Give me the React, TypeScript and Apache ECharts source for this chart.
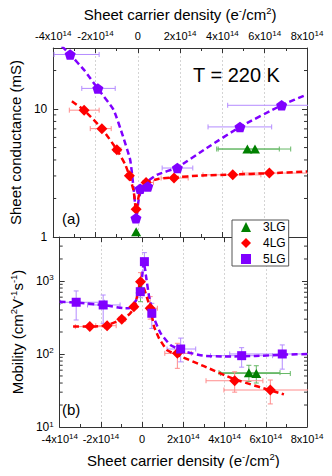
import React, { useEffect, useRef } from "react";
import * as echarts from "echarts";

const FONT = "'Liberation Sans', Arial, Helvetica, sans-serif";
const PURPLE = "#8000ff";
const RED = "#ff0000";
const GREEN = "#008000";
const PURPLE_ERR = "#b48cff";
const RED_ERR = "#ff8c8c";
const GREEN_ERR = "#66b866";
const AXIS = "#333333";

// x axis: sheet carrier density in units of 1e14 e-/cm2
const X_MIN = -4;
const X_MAX = 8;
const X_STEP = 2;
const X_EXP = 14;
// (a) sheet conductance (mS), (b) mobility (cm2/Vs)
const G_MIN = 1;
const G_MAX = 30;
const MU_MIN = 10;
const MU_MAX = 4000;
const gMinorTicks = [2, 3, 4, 5, 6, 7, 8, 9, 20];
const muMinorTicks = [20, 30, 40, 50, 60, 70, 80, 90, 200, 300, 400, 500, 600, 700, 800, 900, 2000, 3000];

// ---- 3LG ----
const lg3X = [-0.08, 5.18, 5.54];
const lg3G = [1.1, 4.87, 4.87];
const lg3GxLo = [-0.08, 3.73, 3.8];
const lg3GxHi = [-0.08, 6.69, 7.23];
const lg3Mu = [780, 55.5, 54];
const lg3MuLo = [520, 42, 40];
const lg3MuHi = [1000, 70, 69];
const lg3MuxLo = [-0.08, 3.73, 3.81];
const lg3MuxHi = [-0.08, 6.69, 7.19];

// ---- 4LG ----
const lg4X = [-2.54, -1.7, -0.99, -0.4, -0.08, 0.39, 1.71, 4.49, 6.22];
const lg4G = [9.8, 7.03, 4.81, 3.01, 1.65, 2.67, 2.89, 3.06, 3.16];
const lg4GxLo = [-3.24, -2.25, -1.15, -0.52, -0.12, 0.24, 1.1, 3.08, 4.96];
const lg4GxHi = [-1.83, -1.26, -0.8, -0.24, -0.04, 0.74, 2.38, 5.82, 8.2];
const lg4Mu = [237, 244, 299, 445, 978, 423, 102, 43, 32.1];
const lg4MuLo = [237, 244, 299, 445, 750, 300, 63.6, 30, 20.7];
const lg4MuHi = [237, 244, 299, 445, 1300, 610, 140, 57, 44];
const lg4MuxLo = [-3.24, -2.25, -1.15, -0.52, -0.12, 0.24, 1.1, 3.1, 3.97];
const lg4MuxHi = [-1.83, -1.26, -0.8, -0.24, -0.04, 0.74, 2.39, 5.86, 8.5];

// ---- 5LG ----
const lg5X = [-3.2, -1.89, -0.09, 0.11, 0.47, 1.87, 4.83, 6.8];
const lg5G = [26.7, 14.5, 1.4, 2.38, 2.48, 3.46, 7.25, 10.7];
const lg5GxLo = [-3.96, -2.65, -0.09, 0.11, 0.47, 1.15, 3.32, 4.25];
const lg5GxHi = [-1.83, -1.07, -0.09, 0.11, 0.47, 2.6, 6.33, 8.9];
const lg5Mu = [511, 469, 713, 1838, 361, 117, 94.8, 100];
const lg5MuLo = [292, 263, 590, 1400, 224, 78, 66, 62];
const lg5MuHi = [730, 642, 860, 2443, 494, 165, 122, 133];
const lg5MuxLo = [-3.96, -2.65, -0.09, 0.11, 0.47, 1.21, 3.32, 4.25];
const lg5MuxHi = [-1.83, -1.07, -0.09, 0.11, 0.47, 2.6, 6.33, 8.9];

// ---- fitted curves ----
const fitG5X = [-3.6, -3.2, -2.5, -1.86, -1.15, -0.7, -0.36, -0.21, -0.13, -0.08, -0.03, 0.05, 0.19, 0.5, 0.9, 1.87, 3.26, 4.83, 6.8, 8.0];
const fitG5Y = [31, 26.7, 19.8, 14.2, 9.9, 6.1, 4.0, 2.48, 1.8, 1.37, 1.6, 2.0, 2.41, 2.75, 3.06, 3.5, 4.96, 7.25, 10.7, 13.0];
const fitG4X = [-3.12, -2.54, -1.7, -0.99, -0.6, -0.4, -0.2, -0.08, 0.02, 0.15, 0.39, 1.0, 1.71, 3.0, 4.49, 6.2, 8.0];
const fitG4Y = [11.5, 9.8, 7.03, 4.81, 3.7, 3.01, 2.3, 1.6, 2.0, 2.45, 2.67, 2.85, 2.93, 3.02, 3.08, 3.15, 3.25];
const fitM5X = [-4, -3.2, -1.9, -0.85, -0.6, -0.28, -0.13, 0, 0.08, 0.19, 0.34, 0.58, 0.9, 1.37, 2.08, 2.94, 4.0, 5.5, 7.0, 8.0];
const fitM5Y = [520, 505, 469, 423, 425, 550, 753, 1150, 1838, 1150, 610, 308, 192, 133, 108, 95, 92, 94, 98, 100];
const fitM4X = [-3.35, -2.54, -1.73, -0.99, -0.6, -0.36, -0.13, -0.06, 0.1, 0.27, 0.42, 0.58, 0.82, 1.21, 1.71, 3.0, 4.49, 6.88];
const fitM4Y = [237, 237, 246, 299, 355, 445, 881, 1040, 780, 550, 401, 237, 164, 113, 97, 68, 45, 28];

const PENTAGON = "path://M0,-10L9.51,-3.09L5.88,8.09L-5.88,8.09L-9.51,-3.09Z";

const zip = (xs: number[], ys: number[]) => xs.map((x, i) => [x, ys[i]]);
const errRows = (xs: number[], ys: number[], xl: number[], xh: number[], yl?: number[], yh?: number[]) =>
  xs.map((x, i) => [x, ys[i], xl[i], xh[i], yl ? yl[i] : ys[i], yh ? yh[i] : ys[i]]);

const errRender = (color: string) => (params: any, api: any) => {
  const x = api.value(0);
  const y = api.value(1);
  const xl = api.value(2);
  const xh = api.value(3);
  const yl = api.value(4);
  const yh = api.value(5);
  const style = { stroke: color, lineWidth: 1, fill: "none" };
  const ch: any[] = [];
  if (xh > xl) {
    const a = api.coord([xl, y]);
    const b = api.coord([xh, y]);
    ch.push({ type: "line", shape: { x1: a[0], y1: a[1], x2: b[0], y2: b[1] }, style });
    ch.push({ type: "line", shape: { x1: a[0], y1: a[1] - 2.5, x2: a[0], y2: a[1] + 2.5 }, style });
    ch.push({ type: "line", shape: { x1: b[0], y1: b[1] - 2.5, x2: b[0], y2: b[1] + 2.5 }, style });
  }
  if (yh > yl) {
    const a = api.coord([x, yl]);
    const b = api.coord([x, yh]);
    ch.push({ type: "line", shape: { x1: a[0], y1: a[1], x2: b[0], y2: b[1] }, style });
    ch.push({ type: "line", shape: { x1: a[0] - 2.5, y1: a[1], x2: a[0] + 2.5, y2: a[1] }, style });
    ch.push({ type: "line", shape: { x1: b[0] - 2.5, y1: b[1], x2: b[0] + 2.5, y2: b[1] }, style });
  }
  return { type: "group", children: ch };
};

const tickRender = (len: number) => (params: any, api: any) => {
  const v = api.value(1);
  const l = api.coord([X_MIN, v]);
  const r = api.coord([X_MAX, v]);
  const style = { stroke: AXIS, lineWidth: 1 };
  return {
    type: "group",
    children: [
      { type: "line", shape: { x1: l[0], y1: l[1], x2: l[0] + len, y2: l[1] }, style },
      { type: "line", shape: { x1: r[0], y1: r[1], x2: r[0] - len, y2: r[1] }, style },
    ],
  };
};

const supRich = (base: number, sup: number, lh: number) => ({
  b: { fontSize: base, fontFamily: FONT, fontWeight: "normal", color: "#000", lineHeight: lh },
  s: { fontSize: sup, fontFamily: FONT, fontWeight: "normal", color: "#000", lineHeight: Math.round(lh * 0.45), verticalAlign: "top" },
});

const fmtX = (v: number) => (Math.abs(v) < 1e-9 ? "{b|0}" : `{b|${v}x10}{s|${X_EXP}}`);
const isDecade = (v: number) => Math.abs(Math.log10(v) - Math.round(Math.log10(v))) < 1e-6;
const fmtG = (v: number) => (isDecade(v) ? `${Math.round(v)}` : "");
const fmtMu = (v: number) => (isDecade(v) ? `{b|10}{s|${Math.round(Math.log10(v))}}` : "");

const xTitle = "{b|Sheet carrier density (e}{s|-}{b|/cm}{s|2}{b|)}";
const muTitle = "{b|Mobility (cm}{s|2}{b|V}{s|-1}{b|s}{s|-1}{b|)}";

function xAxisDef(gridIndex: number, position: string, labels: boolean, grid: boolean, name?: string) {
  return {
    type: "value",
    gridIndex,
    position,
    min: X_MIN,
    max: X_MAX,
    interval: X_STEP,
    axisLine: { show: true, onZero: false, lineStyle: { color: AXIS, width: 1 } },
    axisTick: { show: true, inside: true, length: 5, lineStyle: { color: AXIS } },
    minorTick: { show: true, splitNumber: 2, length: 3, lineStyle: { color: AXIS } },
    axisLabel: { show: labels, formatter: fmtX, margin: 5, rich: supRich(11, 8, 14) },
    splitLine: { show: grid, lineStyle: { color: "#d4d4d4", type: [2, 2], width: 1 } },
    name: name || "",
    nameLocation: "middle",
    nameGap: 24,
    nameTextStyle: { fontWeight: "normal", rich: supRich(15, 9.5, 19) },
  };
}

function yAxisDef(gridIndex: number, position: string, min: number, max: number, labels: boolean, fmt: any, name?: string, rich?: any) {
  return {
    type: "log",
    logBase: 10,
    gridIndex,
    position,
    min,
    max,
    axisLine: { show: true, onZero: false, lineStyle: { color: AXIS, width: 1 } },
    axisTick: { show: true, inside: true, length: 5, lineStyle: { color: AXIS } },
    axisLabel: { show: labels, formatter: fmt, margin: 6, fontSize: 12, color: "#000", fontFamily: FONT, rich: supRich(12, 8, 14) },
    splitLine: { show: false },
    name: name || "",
    nameLocation: "middle",
    nameGap: 26,
    nameTextStyle: rich ? { fontWeight: "normal", rich } : { fontSize: 15, fontWeight: "normal", color: "#000", fontFamily: FONT },
  };
}

export default function App() {
  const ref = useRef<HTMLDivElement>(null);
  useEffect(() => {
    if (!ref.current) return;
    const chart = echarts.init(ref.current, undefined, { renderer: "svg" });
    const top = { xAxisIndex: 0, yAxisIndex: 0 };
    const bot = { xAxisIndex: 2, yAxisIndex: 2 };
    const errS = (axes: any, color: string, data: any[]) => ({
      type: "custom", ...axes, renderItem: errRender(color), data, z: 3, clip: true, silent: true,
    });
    const fitS = (axes: any, color: string, xs: number[], ys: number[]) => ({
      type: "line", ...axes, data: zip(xs, ys), showSymbol: false, symbol: "none", smooth: 0.15, z: 4,
      lineStyle: { color, width: 2.5, type: [6, 3.5] }, clip: true, silent: true,
    });
    const dotS = (axes: any, name: string, color: string, symbol: string, size: any, data: any[]) => ({
      type: "scatter", ...axes, name, data, symbol, symbolSize: size, z: 5, itemStyle: { color, opacity: 1 }, clip: false,
    });
    chart.setOption({
      animation: false,
      textStyle: { fontFamily: FONT },
      grid: [
        { left: 53, top: 48, width: 254, height: 189 },
        { left: 53, top: 237, width: 254, height: 190 },
      ],
      xAxis: [
        xAxisDef(0, "bottom", false, true),
        xAxisDef(0, "top", true, false, xTitle),
        xAxisDef(1, "bottom", true, true, xTitle),
        xAxisDef(1, "top", false, false),
      ],
      yAxis: [
        yAxisDef(0, "left", G_MIN, G_MAX, true, fmtG, "Sheet conductance (mS)"),
        yAxisDef(0, "right", G_MIN, G_MAX, false, fmtG),
        yAxisDef(1, "left", MU_MIN, MU_MAX, true, fmtMu, muTitle, supRich(15, 9.5, 19)),
        yAxisDef(1, "right", MU_MIN, MU_MAX, false, fmtMu),
      ],
      legend: {
        left: 232,
        top: 220,
        orient: "vertical",
        selectedMode: false,
        itemWidth: 10,
        itemHeight: 10,
        itemGap: 4,
        padding: [1, 3, 1, 9],
        backgroundColor: "#ffffff",
        borderColor: "#555555",
        borderWidth: 1,
        borderRadius: 0,
        textStyle: { fontSize: 12, lineHeight: 12, color: "#000", fontFamily: FONT, padding: [0, 0, 0, 7] },
        data: [
          { name: "3LG", icon: "triangle", itemStyle: { color: GREEN } },
          { name: "4LG", icon: "diamond", itemStyle: { color: RED } },
          { name: "5LG", icon: "rect", itemStyle: { color: PURPLE } },
        ],
      },
      graphic: [
        { type: "text", x: 193, y: 75, z: 10, style: { text: "T = 220 K", fontSize: 20, fontFamily: FONT, fill: "#000", verticalAlign: "middle" } },
        { type: "text", x: 62, y: 218, z: 10, style: { text: "(a)", fontSize: 15, fontFamily: FONT, fill: "#000", verticalAlign: "middle" } },
        { type: "text", x: 62, y: 409, z: 10, style: { text: "(b)", fontSize: 15, fontFamily: FONT, fill: "#000", verticalAlign: "middle" } },
      ],
      series: [
        // minor ticks (log axes)
        { type: "custom", ...top, renderItem: tickRender(3), data: gMinorTicks.map((v) => [X_MIN, v]), z: 1, silent: true },
        { type: "custom", ...bot, renderItem: tickRender(3), data: muMinorTicks.map((v) => [X_MIN, v]), z: 1, silent: true },
        // (a) conductance
        errS(top, GREEN_ERR, errRows(lg3X, lg3G, lg3GxLo, lg3GxHi)),
        errS(top, RED_ERR, errRows(lg4X, lg4G, lg4GxLo, lg4GxHi)),
        errS(top, PURPLE_ERR, errRows(lg5X, lg5G, lg5GxLo, lg5GxHi)),
        fitS(top, PURPLE, fitG5X, fitG5Y),
        fitS(top, RED, fitG4X, fitG4Y),
        dotS(top, "3LG", GREEN, "triangle", [10, 9], zip(lg3X, lg3G)),
        dotS(top, "4LG", RED, "diamond", 11, zip(lg4X, lg4G)),
        dotS(top, "5LG", PURPLE, PENTAGON, [11, 10.5], zip(lg5X, lg5G)),
        // (b) mobility
        errS(bot, GREEN_ERR, errRows(lg3X, lg3Mu, lg3MuxLo, lg3MuxHi, lg3MuLo, lg3MuHi)),
        errS(bot, RED_ERR, errRows(lg4X, lg4Mu, lg4MuxLo, lg4MuxHi, lg4MuLo, lg4MuHi)),
        errS(bot, PURPLE_ERR, errRows(lg5X, lg5Mu, lg5MuxLo, lg5MuxHi, lg5MuLo, lg5MuHi)),
        fitS(bot, PURPLE, fitM5X, fitM5Y),
        fitS(bot, RED, fitM4X, fitM4Y),
        dotS(bot, "3LG", GREEN, "triangle", [10, 9], zip(lg3X, lg3Mu)),
        dotS(bot, "4LG", RED, "diamond", 11, zip(lg4X, lg4Mu)),
        dotS(bot, "5LG", PURPLE, "rect", 9, zip(lg5X, lg5Mu)),
      ],
    });
    return () => chart.dispose();
  }, []);
  return <div ref={ref} style={{ width: 332, height: 476, margin: -8 }} />;
}
